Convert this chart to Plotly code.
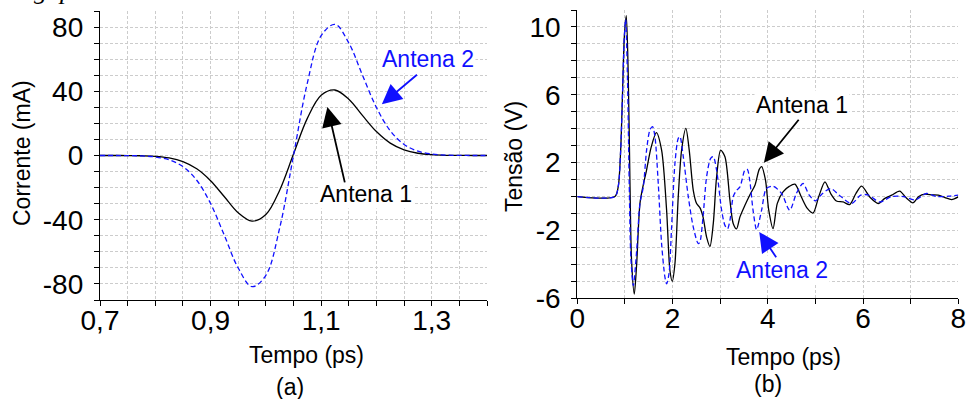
import plotly.graph_objects as go

# ---------------- (a) current pulse ----------------
t_a = [0.70, 0.725, 0.75, 0.775, 0.80, 0.825, 0.85, 0.875, 0.90, 0.925,
       0.95, 0.975, 1.00, 1.025, 1.05, 1.075, 1.10, 1.125, 1.15, 1.175,
       1.20, 1.225, 1.25, 1.275, 1.30, 1.325, 1.35, 1.375, 1.40]
i_ant1 = [0, 0, -0.04, -0.15, -0.5, -1.5, -3.8, -8.3, -15.7, -25.7,
          -35.7, -40.9, -36.8, -21.6, 0.9, 23.1, 37.5, 40.8, 35.0, 24.8,
          14.9, 7.7, 3.5, 1.4, 0.5, 0.14, 0.04, 0.01, 0]
i_ant2 = [0, 0, -0.07, -0.26, -0.9, -2.7, -6.9, -15.4, -29.9, -49.8,
          -70.1, -81.7, -74.6, -45.1, 0, 45.1, 74.6, 81.7, 70.1, 49.8,
          29.9, 15.4, 6.9, 2.7, 0.9, 0.26, 0.07, 0, 0]

# ---------------- (b) voltage ----------------
t_b1 = [0, 0.79, 0.86, 0.91, 0.95, 0.987, 1.029, 1.07, 1.106, 1.14,
        1.197, 1.246, 1.316, 1.386, 1.45, 1.55, 1.66, 1.77, 1.875, 1.945,
        1.994, 2.05, 2.12, 2.19, 2.28, 2.35, 2.435, 2.505, 2.574, 2.64,
        2.715, 2.785, 2.855, 2.925, 3.01, 3.10, 3.205, 3.275, 3.345, 3.415,
        3.52, 3.62, 3.73, 3.82, 3.87, 3.95, 4.02, 4.11, 4.20, 4.32,
        4.45, 4.57, 4.70, 4.83, 4.95, 5.07, 5.20, 5.32, 5.44, 5.58,
        5.72, 5.85, 5.97, 6.15, 6.32, 6.45, 6.60, 6.77, 6.90, 7.05,
        7.17, 7.30, 7.45, 7.58, 7.72, 7.86, 8.0]
v_ant1 = [0, 0, 0.6, 2.7, 6.1, 9.4, 10.67, 7.1, 0.8, -3.8,
          -5.75, -4.0, -0.4, 0.7, 1.5, 2.9, 3.77, 2.74, -0.8, -4.36,
          -5.0, -3.96, 0, 2.74, 4.02, 2.74, 0.37, -0.41, -0.65, -1.2,
          -2.39, -2.94, -1.6, 1.16, 2.74, 2.35, -0.22, -1.6, -1.9, -1.2,
          -0.51, 0.08, 0.67, 1.6, 1.76, 1.0, -0.8, -1.89, -0.4, 0.28,
          0.6, 0.73, 0.0, -0.7, -0.97, 0.0, 0.87, 0.18, -0.26, -0.32,
          -0.47, 0.18, 0.61, -0.06, -0.41, -0.12, 0.08, 0.32, -0.06, -0.37,
          0.0, 0.14, 0.1, 0.08, -0.06, -0.18, -0.02]

t_b2 = [0, 0.79, 0.86, 0.91, 0.95, 0.987, 1.015, 1.055, 1.09, 1.125,
        1.176, 1.246, 1.316, 1.386, 1.455, 1.525, 1.58, 1.63, 1.70, 1.77,
        1.84, 1.875, 1.925, 1.98, 2.05, 2.12, 2.155, 2.225, 2.33, 2.435,
        2.54, 2.574, 2.64, 2.715, 2.80, 2.855, 2.925, 3.03, 3.10, 3.155,
        3.205, 3.275, 3.345, 3.415, 3.52, 3.57, 3.62, 3.69, 3.765, 3.87,
        3.97, 4.11, 4.29, 4.46, 4.60, 4.74, 4.87, 5.0, 5.15, 5.32,
        5.50, 5.76, 5.95, 6.10, 6.35, 6.60, 6.85, 7.09, 7.33, 7.55,
        7.80, 8.0]
v_ant2 = [0, 0, 0.6, 2.7, 6.1, 9.4, 10.45, 6.8, 0.8, -3.6,
          -5.25, -3.2, -0.41, 0.57, 2.74, 3.93, 4.12, 3.53, 0.77, -2.78,
          -4.75, -5.15, -4.55, -1.8, 1.95, 3.43, 3.53, 2.35, 0, -1.8,
          -2.78, -2.68, -1.2, 1.16, 2.25, 2.35, 1.56, -0.8, -1.7, -1.9,
          -1.4, 0, 0.37, 0.57, 1.56, 1.6, 0.97, -0.8, -1.95, -0.8,
          0.47, 0.61, 0.18, -0.81, 0.18, 0.77, 0.08, -0.25, 0.18, 0.47,
          0.08, -0.41, 0.08, 0.1, -0.32, 0, 0, -0.2, 0.18, 0,
          0.02, 0.08]

xticks_a = [0.7, 0.9, 1.1, 1.3]
xticklabels_a = ["0,7", "0,9", "1,1", "1,3"]
yticks_a = [-80, -40, 0, 40, 80]
yticklabels_a = ["-80", "-40", "0", "40", "80"]
xticks_b = [0, 2, 4, 6, 8]
xticklabels_b = ["0", "2", "4", "6", "8"]
yticks_b = [-6, -2, 2, 6, 10]
yticklabels_b = ["-6", "-2", "2", "6", "10"]

BLUE = "#1010ff"
FONT = "Liberation Sans, Arial, sans-serif"
W, H = 966, 399

fig = go.Figure()

black_line = dict(color="black", width=1.3)
blue_line = dict(color=BLUE, width=1.3, dash="5px,3px")

fig.add_trace(go.Scatter(x=t_a, y=i_ant1, mode="lines", line=black_line,
                         line_shape="spline", xaxis="x", yaxis="y"))
fig.add_trace(go.Scatter(x=t_a, y=i_ant2, mode="lines", line=blue_line,
                         line_shape="spline", xaxis="x", yaxis="y"))
fig.add_trace(go.Scatter(x=t_b1, y=v_ant1, mode="lines", line=black_line,
                         line_shape="spline", line_smoothing=0.8,
                         xaxis="x2", yaxis="y2"))
fig.add_trace(go.Scatter(x=t_b2, y=v_ant2, mode="lines", line=blue_line,
                         line_shape="spline", line_smoothing=0.8,
                         xaxis="x2", yaxis="y2"))

grid = dict(showgrid=True, gridcolor="#cccccc", gridwidth=1, griddash="3px,2px")


def axis(domain, rng, vals, text, minor_step, anchor, is_x):
    a = dict(domain=domain, range=rng, tickmode="array", tickvals=vals,
             ticktext=text, ticks="outside", ticklen=5, tickwidth=1,
             tickcolor="black", showline=True, linecolor="black", linewidth=1.3,
             zeroline=False, anchor=anchor, fixedrange=True, automargin=False,
             ticklabeloverflow="allow",
             tickfont=dict(family=FONT, size=28, color="black"),
             minor=dict(dtick=minor_step, tick0=rng[0] if is_x else 0,
                        ticks="outside", ticklen=5, tickcolor="black",
                        **grid),
             **grid)
    return a


xa_dom = [100 / W, 487 / W]
ya_dom = [1 - 300 / H, 1 - 11 / H]
xb_dom = [577.3 / W, 958.3 / W]
yb_dom = [1 - 298.3 / H, 1 - 10 / H]

fig.update_layout(
    width=W, height=H,
    margin=dict(l=0, r=0, t=0, b=0, pad=0, autoexpand=False),
    paper_bgcolor="white", plot_bgcolor="white",
    showlegend=False,
    font=dict(family=FONT, color="black"),
    xaxis=axis(xa_dom, [0.7, 1.4], xticks_a, xticklabels_a, 0.05, "y", True),
    yaxis=axis(ya_dom, [-90, 90], yticks_a, yticklabels_a, 10, "x", False),
    xaxis2=axis(xb_dom, [0, 8], xticks_b, xticklabels_b, 1, "y2", True),
    yaxis2=axis(yb_dom, [-6, 11], yticks_b, yticklabels_b, 1, "x2", False),
)
fig.update_xaxes(ticklabelstandoff=-10)
fig.update_yaxes(ticklabelstandoff=5)

ann = []
# axis titles and panel captions
for txt, px, py, ang in [("Tempo (ps)", 306, 355, 0), ("(a)", 290, 386.7, 0),
                         ("Tempo (ps)", 783, 356.7, 0), ("(b)", 768, 384, 0),
                         ("Corrente (mA)", 22, 153, -90), ("Tensão (V)", 514, 157, -90)]:
    ann.append(dict(text=txt, x=px / W, y=1 - py / H, xref="paper", yref="paper",
                    xanchor="center", yanchor="middle", showarrow=False,
                    textangle=ang, font=dict(family=FONT, size=23, color="black")))

# curve labels
ann += [
    dict(text="Antena 2", x=1.2936, y=59.8, xref="x", yref="y", showarrow=False,
         font=dict(family=FONT, size=23, color=BLUE), bgcolor="white"),
    dict(text="Antena 1", x=1.182, y=-23.9, xref="x", yref="y", showarrow=False,
         font=dict(family=FONT, size=23, color="black"), bgcolor="white"),
    dict(text="Antena 1", x=4.709, y=5.40, xref="x2", yref="y2", showarrow=False,
         font=dict(family=FONT, size=23, color="black"), bgcolor="white"),
    dict(text="Antena 2", x=4.306, y=-4.36, xref="x2", yref="y2", showarrow=False,
         font=dict(family=FONT, size=23, color=BLUE), bgcolor="white"),
]

# arrows pointing at the curves
for xr, yr, tip, tail, col in [
    ("x", "y", (1.2098, 31.9), (1.276, 51.1), BLUE),
    ("x", "y", (1.1113, 30.2), (1.1434, -17.7), "black"),
    ("x2", "y2", (3.918, 1.99), (4.674, 4.62), "black"),
    ("x2", "y2", (3.82, -2.09), (4.197, -3.67), BLUE),
]:
    ann.append(dict(text="", x=tip[0], y=tip[1], ax=tail[0], ay=tail[1],
                    xref=xr, yref=yr, axref=xr, ayref=yr, showarrow=True,
                    arrowhead=2, arrowsize=2.2, arrowwidth=1.8, arrowcolor=col,
                    standoff=0, startstandoff=0))

# tail of the preceding line of text
ann.append(dict(text="de gap.", x=82 / W, y=1 - 7 / H, xref="paper", yref="paper",
                xanchor="right", yanchor="bottom", showarrow=False,
                font=dict(family="Liberation Serif, serif", size=26, color="black",
                          style="italic")))

fig.update_layout(annotations=ann)
fig.write_html("out.html")
